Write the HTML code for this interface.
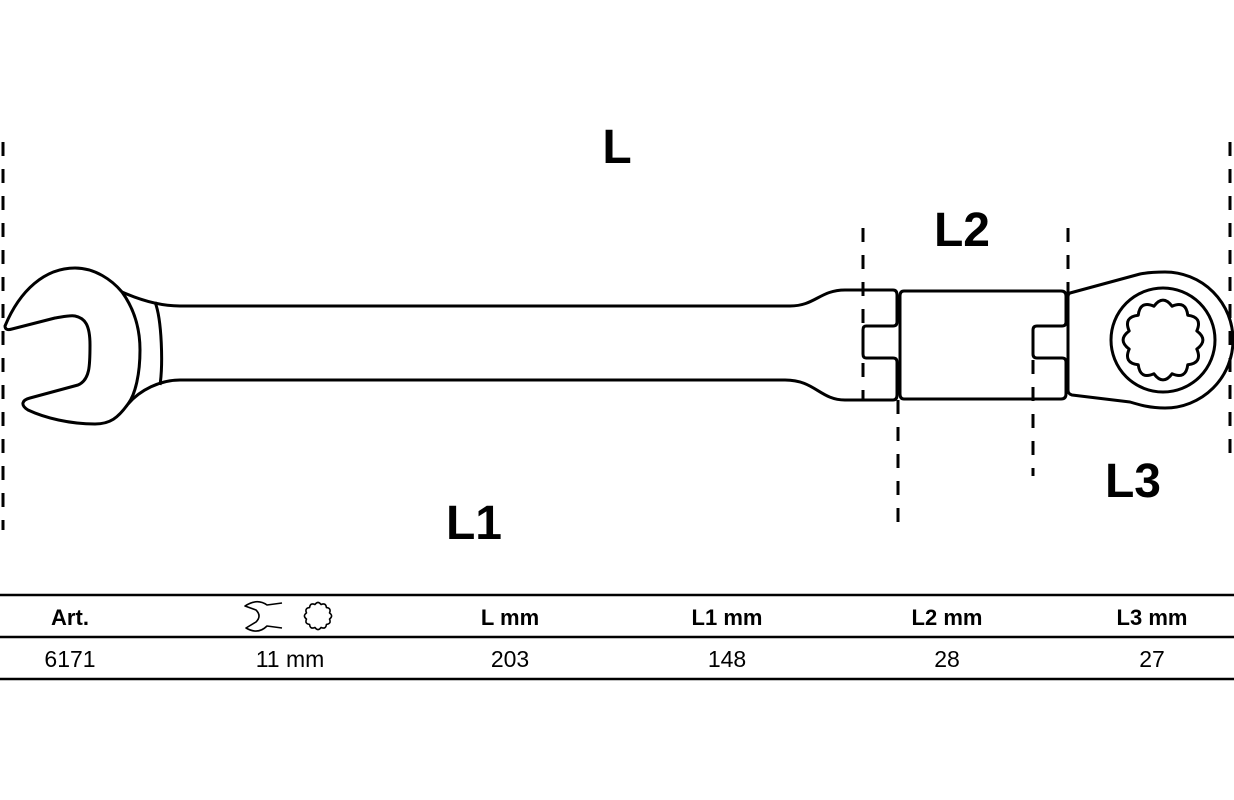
<!DOCTYPE html>
<html><head><meta charset="utf-8"><style>
html,body{margin:0;padding:0;background:#fff;width:1234px;height:800px;overflow:hidden}
svg{display:block}
.lbl{font-family:"Liberation Sans Narrow","Liberation Sans",sans-serif;font-weight:bold;font-size:48px;fill:#000}
.th{font-family:"Liberation Sans",sans-serif;font-weight:bold;font-size:22px;fill:#000}
.td{font-family:"Liberation Sans",sans-serif;font-size:23px;fill:#000}
</style></head><body>
<svg width="1234" height="800" viewBox="0 0 1234 800" xmlns="http://www.w3.org/2000/svg">
<g stroke="#000" stroke-width="3" fill="none" stroke-dasharray="14 13">
<line x1="3" y1="142" x2="3" y2="530"/>
<line x1="1230" y1="142" x2="1230" y2="462"/>
<line x1="863" y1="228" x2="863" y2="400"/>
<line x1="1068" y1="228" x2="1068" y2="298"/>
<line x1="898" y1="400" x2="898" y2="530"/>
<line x1="1033" y1="360" x2="1033" y2="476"/>
</g>
<g stroke="#000" stroke-width="3" fill="none" stroke-linejoin="round">
<path d="M5,326 C20,290 45,268 75,268 C95,268 112,280 122,292 C140,300 160,306 180,306 L790,306 C815,306 820,290 845,290 L893,290 Q897,290 897,295 L897,322 Q897,326 893,326 L866,326 Q863,326 863,330 L863,354 Q863,358 866,358 L893,358 Q897,358 897,362 L897,395 Q897,400 893,400 L845,400 C820,400 815,380 785,380 L180,380 C160,380 140,390 128,404 C118,418 110,424 95,424 C70,424 45,418 28,410 C20,405 22,400 30,398 L78,385 C90,380 90,365 90,345 C90,325 85,318 75,316 C70,315 62,317 55,318 L12,329 Q5,331 5,326 Z"/>
<path d="M122,292 C135,310 140,330 140,350 C140,375 135,395 128,404"/>
<path d="M155,302 C162,320 163,365 160,385"/>
<path d="M904,291 L1061,291 Q1066,291 1066,296 L1066,322 Q1066,326 1062,326 L1037,326 Q1033,326 1033,330 L1033,354 Q1033,358 1037,358 L1062,358 Q1066,358 1066,362 L1066,394 Q1066,399 1061,399 L904,399 Q900,399 900,394 L900,296 Q900,291 904,291 Z"/>
<path d="M1070,293 L1140,274 C1150,272 1158,272 1165,272 A68,68 0 0 1 1165,408 C1150,408 1140,405 1130,402 L1072,395 Q1068,394 1068,390 L1068,297 Q1068,294 1070,293 Z"/>
<circle cx="1163" cy="340" r="52"/>
<path d="M1196.81,330.94 Q1209,340 1196.81,349.06 Q1202.84,363 1187.75,364.75 Q1186,379.84 1172.06,373.81 Q1163,386 1153.94,373.81 Q1140,379.84 1138.25,364.75 Q1123.16,363 1129.19,349.06 Q1117,340 1129.19,330.94 Q1123.16,317 1138.25,315.25 Q1140,300.16 1153.94,306.19 Q1163,294 1172.06,306.19 Q1186,300.16 1187.75,315.25 Q1202.84,317 1196.81,330.94 Z"/>
</g>
<text class="lbl" x="617" y="163" text-anchor="middle">L</text>
<text class="lbl" x="962" y="246" text-anchor="middle">L2</text>
<text class="lbl" x="474" y="539" text-anchor="middle">L1</text>
<text class="lbl" x="1133" y="497" text-anchor="middle">L3</text>
<g stroke="#000" stroke-width="2.5">
<line x1="0" y1="595" x2="1234" y2="595"/>
<line x1="0" y1="637" x2="1234" y2="637"/>
<line x1="0" y1="679" x2="1234" y2="679"/>
</g>
<g stroke="#000" stroke-width="1.6" fill="none" stroke-linejoin="round">
<path d="M282,603 L267,605 Q257,598 245,606 L256,610 Q262,616 256,622 L246,628 Q258,635 267,626 L282,628"/>
<path d="M1196.81,330.94 Q1209,340 1196.81,349.06 Q1202.84,363 1187.75,364.75 Q1186,379.84 1172.06,373.81 Q1163,386 1153.94,373.81 Q1140,379.84 1138.25,364.75 Q1123.16,363 1129.19,349.06 Q1117,340 1129.19,330.94 Q1123.16,317 1138.25,315.25 Q1140,300.16 1153.94,306.19 Q1163,294 1172.06,306.19 Q1186,300.16 1187.75,315.25 Q1202.84,317 1196.81,330.94 Z" transform="translate(318,616) scale(0.34) translate(-1163,-340)" vector-effect="non-scaling-stroke"/>
</g>
<text class="th" x="70" y="625" text-anchor="middle">Art.</text>
<text class="th" x="510" y="625" text-anchor="middle">L mm</text>
<text class="th" x="727" y="625" text-anchor="middle">L1 mm</text>
<text class="th" x="947" y="625" text-anchor="middle">L2 mm</text>
<text class="th" x="1152" y="625" text-anchor="middle">L3 mm</text>
<text class="td" x="70" y="667" text-anchor="middle">6171</text>
<text class="td" x="290" y="667" text-anchor="middle">11 mm</text>
<text class="td" x="510" y="667" text-anchor="middle">203</text>
<text class="td" x="727" y="667" text-anchor="middle">148</text>
<text class="td" x="947" y="667" text-anchor="middle">28</text>
<text class="td" x="1152" y="667" text-anchor="middle">27</text>
</svg>
</body></html>
